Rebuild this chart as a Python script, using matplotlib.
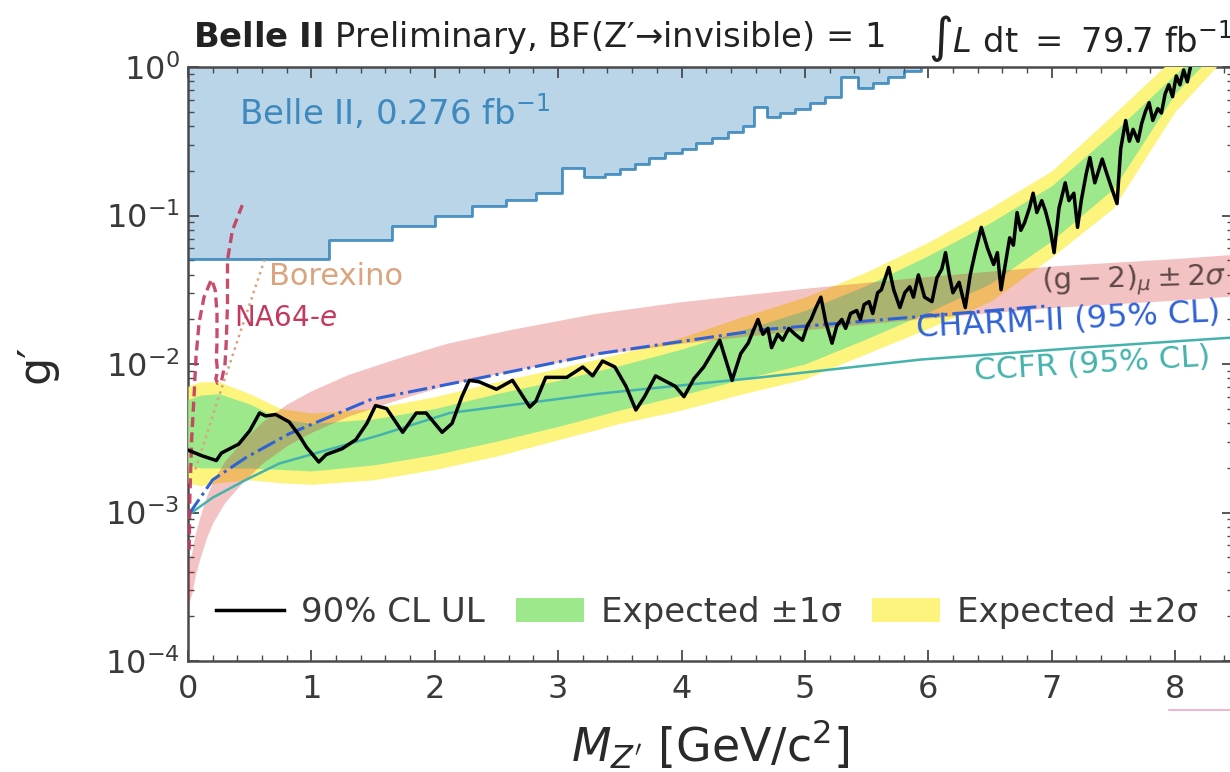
import numpy as np
import matplotlib
matplotlib.use("Agg")
import matplotlib.pyplot as plt
from matplotlib.lines import Line2D
from matplotlib.patches import Patch
from matplotlib.ticker import MultipleLocator, LogLocator, NullFormatter

# Belle II 0.276 fb^-1 exclusion (step edges, log10 g')
belle_x = [0.0, 1.14, 1.65, 2.00, 2.30, 2.58, 2.82, 3.03, 3.21, 3.38, 3.50, 3.62, 3.74, 3.87, 4.00,
           4.12, 4.25, 4.38, 4.50, 4.59, 4.69, 4.80, 4.92, 5.04, 5.16, 5.29, 5.43, 5.55, 5.67, 5.80, 5.94]
belle_log = [-1.293, -1.165, -1.07, -1.003, -0.936, -0.896, -0.85, -0.68, -0.74, -0.72, -0.69, -0.65,
             -0.61, -0.58, -0.55, -0.51, -0.48, -0.44, -0.40, -0.27, -0.34, -0.31, -0.28, -0.24, -0.20,
             -0.067, -0.14, -0.11, -0.07, -0.03, 0.0]

# expected sensitivity bands (log10 g')
exp_x = [0.0, 0.1, 0.25, 0.5, 0.75, 1.0, 1.5, 2.0, 2.5, 3.0, 3.5, 4.0, 4.5, 5.0, 5.5, 6.0, 6.5, 7.0, 7.5, 8.0, 8.5]
y2_up = [-2.15, -2.12, -2.12, -2.20, -2.30, -2.33, -2.30, -2.22, -2.12, -2.03, -1.93, -1.82, -1.68, -1.55,
         -1.38, -1.18, -0.95, -0.70, -0.32, 0.07, 0.45]
y1_up = [-2.24, -2.21, -2.20, -2.27, -2.37, -2.40, -2.37, -2.30, -2.20, -2.11, -2.01, -1.90, -1.77, -1.64,
         -1.47, -1.27, -1.05, -0.80, -0.44, -0.05, 0.33]
y1_lo = [-2.68, -2.70, -2.70, -2.70, -2.71, -2.72, -2.68, -2.61, -2.52, -2.42, -2.31, -2.21, -2.10, -2.00,
         -1.83, -1.65, -1.46, -1.17, -0.82, -0.18, 0.25]
y2_lo = [-2.80, -2.82, -2.80, -2.78, -2.80, -2.81, -2.78, -2.71, -2.62, -2.51, -2.40, -2.31, -2.20, -2.10,
         -1.93, -1.76, -1.58, -1.28, -0.95, -0.30, 0.15]

# observed 90% CL upper limit (log10 g')
ul_x = [0.00, 0.03, 0.12, 0.23, 0.27, 0.41, 0.50, 0.58, 0.63, 0.71, 0.82, 0.90, 0.96, 1.06, 1.12, 1.25,
        1.36, 1.45, 1.52, 1.61, 1.74, 1.85, 1.93, 2.06, 2.14, 2.22, 2.28, 2.36, 2.50, 2.63, 2.77, 2.82,
        2.90, 3.07, 3.20, 3.28, 3.36, 3.46, 3.55, 3.63, 3.70, 3.79, 3.88, 3.95, 4.02, 4.10, 4.18, 4.31,
        4.41, 4.48, 4.54, 4.58, 4.62, 4.66, 4.70, 4.73, 4.78, 4.82, 4.87, 4.92, 4.98, 5.02, 5.05, 5.09,
        5.13, 5.17, 5.22, 5.26, 5.30, 5.33, 5.37, 5.42, 5.45, 5.48, 5.52, 5.55, 5.59, 5.62, 5.66, 5.68,
        5.72, 5.77, 5.81, 5.85, 5.88, 5.92, 5.97, 6.03, 6.07, 6.11, 6.14, 6.17, 6.20, 6.25, 6.30, 6.34,
        6.38, 6.43, 6.48, 6.53, 6.56, 6.59, 6.63, 6.66, 6.69, 6.72, 6.75, 6.78, 6.82, 6.85, 6.88, 6.92,
        6.95, 6.99, 7.02, 7.06, 7.11, 7.14, 7.18, 7.21, 7.24, 7.28, 7.31, 7.35, 7.38, 7.41, 7.44, 7.48,
        7.53, 7.56, 7.60, 7.63, 7.66, 7.70, 7.73, 7.76, 7.79, 7.82, 7.86, 7.89, 7.92, 7.95, 7.98, 8.01,
        8.04, 8.07, 8.10, 8.13]
ul_log = [-2.58, -2.59, -2.62, -2.65, -2.60, -2.54, -2.45, -2.33, -2.35, -2.34, -2.39, -2.48, -2.56,
          -2.66, -2.61, -2.57, -2.51, -2.40, -2.28, -2.30, -2.46, -2.33, -2.33, -2.46, -2.40, -2.22,
          -2.11, -2.12, -2.17, -2.11, -2.29, -2.25, -2.09, -2.09, -2.02, -2.08, -1.98, -2.02, -2.15,
          -2.31, -2.22, -2.08, -2.12, -2.15, -2.22, -2.10, -2.02, -1.84, -2.11, -1.93, -1.86, -1.78,
          -1.70, -1.80, -1.76, -1.89, -1.80, -1.84, -1.76, -1.80, -1.84, -1.74, -1.70, -1.62, -1.55,
          -1.72, -1.86, -1.74, -1.70, -1.76, -1.66, -1.64, -1.70, -1.60, -1.58, -1.66, -1.52, -1.50,
          -1.40, -1.35, -1.50, -1.62, -1.52, -1.48, -1.55, -1.40, -1.55, -1.58, -1.42, -1.36, -1.25,
          -1.40, -1.52, -1.45, -1.62, -1.40, -1.25, -1.08, -1.22, -1.33, -1.25, -1.50, -1.30, -1.15,
          -1.20, -0.98, -1.10, -1.05, -0.95, -0.85, -0.98, -0.90, -0.97, -1.10, -1.25, -0.95, -0.78,
          -0.90, -0.85, -1.08, -0.90, -0.72, -0.61, -0.78, -0.70, -0.62, -0.70, -0.80, -0.92, -0.55,
          -0.36, -0.50, -0.42, -0.50, -0.38, -0.30, -0.24, -0.36, -0.28, -0.31, -0.18, -0.12, -0.20,
          -0.06, -0.12, -0.02, -0.10, 0.02]

# (g-2)_mu +- 2 sigma band (log10 g')
gm2_x = [0.0, 0.03, 0.06, 0.1, 0.15, 0.2, 0.3, 0.45, 0.6, 0.8, 1.0, 1.3, 1.7, 2.1, 2.6, 3.3, 4.0, 5.0,
         6.0, 7.0, 8.0, 8.5]
gm2_lo = [-3.62, -3.55, -3.42, -3.30, -3.17, -3.07, -2.93, -2.79, -2.67, -2.55, -2.46, -2.35, -2.24,
          -2.14, -2.05, -1.94, -1.86, -1.77, -1.69, -1.62, -1.57, -1.54]
gm2_hi = [-3.34, -3.27, -3.14, -3.02, -2.89, -2.79, -2.65, -2.51, -2.39, -2.27, -2.18, -2.07, -1.96,
          -1.86, -1.77, -1.66, -1.58, -1.49, -1.41, -1.34, -1.29, -1.26]

# CHARM-II and CCFR 95% CL limits
charm_x = [0.0, 0.05, 0.2, 0.47, 0.82, 1.48, 2.39, 3.33, 4.64, 5.94, 6.95]
charm_log = [-3.02, -2.96, -2.78, -2.63, -2.47, -2.24, -2.09, -1.93, -1.77, -1.68, -1.61]
ccfr_x = [0.0, 0.03, 0.2, 0.47, 0.74, 1.55, 2.12, 3.33, 4.64, 5.94, 7.24, 8.5]
ccfr_log = [-3.03, -3.0, -2.90, -2.78, -2.67, -2.48, -2.33, -2.20, -2.09, -1.97, -1.89, -1.82]

# NA64-e and Borexino
na64_x = [0.01, 0.015, 0.03, 0.05, 0.065, 0.09, 0.13, 0.19, 0.22, 0.235, 0.235, 0.23, 0.24, 0.225,
          0.24, 0.27, 0.30, 0.31, 0.32, 0.32, 0.36, 0.44]
na64_log = [-3.25, -2.9, -2.5, -2.2, -1.95, -1.72, -1.55, -1.43, -1.50, -1.65, -1.85, -1.97, -2.05,
            -2.10, -2.13, -2.12, -2.0, -1.85, -1.6, -1.30, -1.10, -0.93]
borex_x = [0.06, 0.13, 0.27, 0.41, 0.62]
borex_log = [-2.71, -2.53, -2.17, -1.82, -1.30]

pw = lambda v: 10.0 ** np.asarray(v)

W, H = 1230, 772
fig = plt.figure(figsize=(W / 100, H / 100), dpi=100)
ax = fig.add_axes([188 / W, 1 - 661 / H, 1045 / W, 594 / H])

blue = "#1f77b4"
ax.fill_between(belle_x, pw(belle_log), 1.0, step="post", color=blue, alpha=0.3, lw=0, zorder=1)
ax.step(belle_x, pw(belle_log), where="post", color=blue, alpha=0.8, lw=2, zorder=2)

c_yel = "#fcf47c"
c_grn = "#9de88b"
ax.fill_between(exp_x, pw(y2_lo), pw(y2_up), color=c_yel, lw=0, zorder=3)
ax.fill_between(exp_x, pw(y1_lo), pw(y1_up), color=c_grn, lw=0, zorder=4)
ax.fill_between(gm2_x, pw(gm2_lo), pw(gm2_hi), color="#d62728", alpha=0.28, lw=0, zorder=5)

ax.plot(ccfr_x, pw(ccfr_log), color="#45b3ad", lw=1.8, zorder=6)
ax.plot(charm_x, pw(charm_log), color="#2f62d4", lw=2.2, ls="-.", zorder=6)
ax.plot(na64_x, pw(na64_log), color="#c23a5c", lw=2.4, ls=(0, (3, 1.6)), alpha=0.9, zorder=6)
ax.plot(borex_x, pw(borex_log), color="#d9a47e", lw=1.8, ls=":", zorder=6)
ax.plot(ul_x, pw(ul_log), color="black", lw=2.5, zorder=8)

ax.set_yscale("log")
ax.set_xlim(0, 8.47)
ax.set_ylim(1e-4, 1)

# labels on the plot
ax.text(0.41, 10 ** -0.30, r"Belle II, 0.276 fb$^{-1}$", color=blue, alpha=0.8, fontsize=24.5,
        va="center", ha="left", zorder=9)
ax.text(0.66, 10 ** -1.41, "Borexino", color="#d9a47e", fontsize=22, va="center", zorder=9)
ax.text(0.37, 10 ** -1.69, r"NA64-$e$", color="#c23a5c", fontsize=20, va="center", zorder=9)
ax.text(6.92, 10 ** -1.45, r"$(\mathrm{g}-2)_\mu \pm 2\sigma$", color="#5e4848", fontsize=21,
        va="center", ha="left", rotation=1.5, rotation_mode="anchor", zorder=9)
ax.text(5.90, 10 ** -1.76, "CHARM-II (95% CL)", color="#2f62d4", fontsize=23, va="center",
        ha="left", rotation=3, rotation_mode="anchor", zorder=9)
ax.text(6.37, 10 ** -2.05, "CCFR (95% CL)", color="#45b3ad", fontsize=22.5, va="center",
        ha="left", rotation=3.5, rotation_mode="anchor", zorder=9)

# axes styling
spine_c = "#4a4a4a"
for s in ax.spines.values():
    s.set_color(spine_c)
    s.set_linewidth(1.8)
ax.xaxis.set_major_locator(MultipleLocator(1))
ax.xaxis.set_minor_locator(MultipleLocator(0.2))
ax.yaxis.set_major_locator(LogLocator(base=10, numticks=10))
ax.yaxis.set_minor_locator(LogLocator(base=10, subs=np.arange(2, 10) * 0.1, numticks=20))
ax.yaxis.set_minor_formatter(NullFormatter())
ax.tick_params(which="both", direction="in", top=True, right=True, colors=spine_c)
ax.tick_params(which="major", length=8, width=1.3, labelsize=23, labelcolor="#3a3a3a")
ax.tick_params(which="minor", length=4.5, width=1.0)
ax.tick_params(axis="x", which="major", pad=9)
ax.tick_params(axis="y", which="major", pad=6)

ax.set_xlabel(r"$M_{Z'}$ [GeV/c$^2$]", fontsize=33, color="#2a2a2a")
ax.xaxis.set_label_coords(0.5, -0.141)
ax.xaxis.label.set_va("center")
ax.set_ylabel("g′", fontsize=32, color="#2a2a2a")
ax.yaxis.set_label_coords(-0.145, 0.5)
ax.yaxis.label.set_va("center")

handles = [Line2D([], [], color="black", lw=2.5),
           Patch(color=c_grn, lw=0),
           Patch(color=c_yel, lw=0)]
ax.legend(handles, ["90% CL UL", "Expected ±1σ", "Expected ±2σ"], loc="center",
          bbox_to_anchor=(0.497, 0.082), ncol=3, frameon=False, fontsize=24.5,
          handlelength=2.0, handletextpad=0.5, columnspacing=0.9, labelcolor="#3a3a3a")

fig.text(193 / W, 1 - 38 / H, r"$\mathbf{Belle\ II}$ Preliminary, BF(Z′→invisible) = 1",
         fontsize=24.3, va="center", ha="left", color="#222222")
fig.text(928 / W, 1 - 38 / H, r"$\int L\ \mathrm{dt}\ =\ 79.7\ \mathrm{fb}^{-1}$",
         fontsize=24.3, va="center", ha="left", color="#222222")

fig.add_artist(Line2D([1169 / W, 1.0], [1 - 710 / H, 1 - 710 / H], color="#f2a6c4", lw=1.2))

fig.savefig("out.png", dpi=100)
